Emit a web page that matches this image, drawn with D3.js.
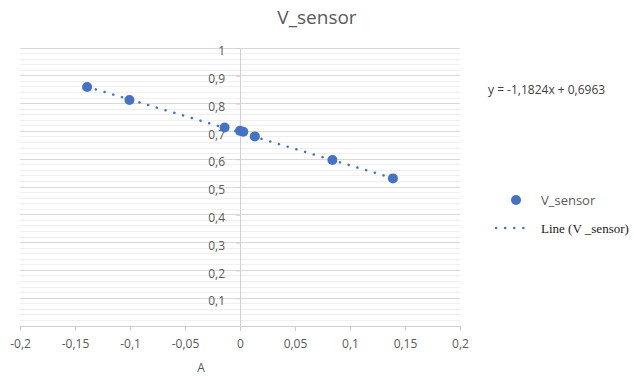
<!DOCTYPE html>
<html><head><meta charset="utf-8">
<script src="https://cdn.jsdelivr.net/npm/d3@7"></script>
<style>body{margin:0;background:#fff;}svg{display:block;font-family:"Open Sans","Noto Sans",sans-serif;}</style>
</head><body>
<svg id="c" width="634" height="376"></svg>
<script>
const xValues = [-0.139, -0.1005, -0.014, 0.0, 0.003, 0.0135, 0.084, 0.139];
const yValues = [0.860, 0.813, 0.714, 0.702, 0.699, 0.682, 0.597, 0.531];
const xTicks = [-0.2, -0.15, -0.1, -0.05, 0, 0.05, 0.1, 0.15, 0.2];
const yTicks = [0.1, 0.2, 0.3, 0.4, 0.5, 0.6, 0.7, 0.8, 0.9, 1];
const slope = -1.1824, intercept = 0.6963;
const fmt = v => String(+v.toFixed(2)).replace('.', ',');

const svg = d3.select('#c');
const x = d3.scaleLinear().domain([-0.2, 0.2]).range([20, 460]);
const y = d3.scaleLinear().domain([0, 1]).range([326, 48]);
const blue = '#4472C4';

// minor gridlines
const minor = d3.range(0.02, 1.0001, 0.02).filter(v => Math.abs(v*10 - Math.round(v*10)) > 1e-6);
svg.append('g').selectAll('line').data(minor).join('line')
  .attr('x1', x(-0.2)).attr('x2', x(0.2)).attr('y1', d => y(d)).attr('y2', d => y(d))
  .attr('stroke', '#efefef').attr('stroke-width', 1).attr('shape-rendering','crispEdges');
// major gridlines
svg.append('g').selectAll('line').data(yTicks).join('line')
  .attr('x1', x(-0.2)).attr('x2', x(0.2)).attr('y1', d => y(d)).attr('y2', d => y(d))
  .attr('stroke', '#d9d9d9').attr('stroke-width', 1).attr('shape-rendering','crispEdges');

// x axis
const xAxis = svg.append('g').attr('transform', `translate(0,${y(0)})`)
  .call(d3.axisBottom(x).tickValues(xTicks).tickFormat(fmt).tickSize(5).tickPadding(8));
xAxis.select('.domain').attr('stroke', '#d0d0d0');
xAxis.selectAll('.tick line').attr('stroke', '#d0d0d0');
xAxis.selectAll('text').attr('fill', '#595959').style('font-size', '12px').style('font-family','"Open Sans",sans-serif');

// y axis at x=0
const yAxis = svg.append('g').attr('transform', `translate(${x(0)},0)`)
  .call(d3.axisLeft(y).tickValues(yTicks).tickFormat(fmt).tickSize(4).tickPadding(11).tickSizeOuter(0));
yAxis.select('.domain').attr('stroke', '#d0d0d0');
yAxis.selectAll('.tick line').attr('stroke', '#d0d0d0');
yAxis.selectAll('text').attr('fill', '#595959').style('font-size', '12px').attr('dy', '0.55em').style('font-family','"Open Sans",sans-serif');

// trendline
const xmin = d3.min(xValues), xmax = d3.max(xValues);
svg.append('line')
  .attr('x1', x(xmin)).attr('y1', y(slope*xmin + intercept))
  .attr('x2', x(xmax)).attr('y2', y(slope*xmax + intercept))
  .attr('stroke', blue).attr('stroke-width', 2.5).attr('stroke-linecap', 'round')
  .attr('stroke-dasharray', '0.1 9');

// points
svg.append('g').selectAll('circle').data(xValues.map((v, i) => [v, yValues[i]])).join('circle')
  .attr('cx', d => x(d[0])).attr('cy', d => y(d[1])).attr('r', 5).attr('fill', blue);

// title
svg.append('text').attr('x', 317).attr('y', 24).attr('text-anchor', 'middle')
  .attr('fill', '#595959').style('font-size', '19px').text('V_sensor');
// axis title
svg.append('text').attr('x', 201).attr('y', 372).attr('text-anchor', 'middle')
  .attr('fill', '#595959').style('font-size', '12px').text('A');
// equation
svg.append('text').attr('x', 488).attr('y', 94)
  .attr('fill', '#404040').style('font-size', '12px').text('y = -1,1824x + 0,6963');

// legend
svg.append('circle').attr('cx', 516).attr('cy', 200).attr('r', 5).attr('fill', blue);
svg.append('text').attr('x', 541).attr('y', 205).attr('fill', '#595959').style('font-size', '13px').text('V_sensor');
svg.append('line').attr('x1', 496).attr('x2', 527).attr('y1', 228).attr('y2', 228)
  .attr('stroke', blue).attr('stroke-width', 2.5).attr('stroke-linecap', 'round').attr('stroke-dasharray', '0.1 9');
svg.append('text').attr('x', 541).attr('y', 233).attr('fill', '#1a1a1a')
  .style('font-family', '"Liberation Serif","DejaVu Serif",serif').style('font-size', '13px').text('Line (V _sensor)');
</script>
</body></html>
